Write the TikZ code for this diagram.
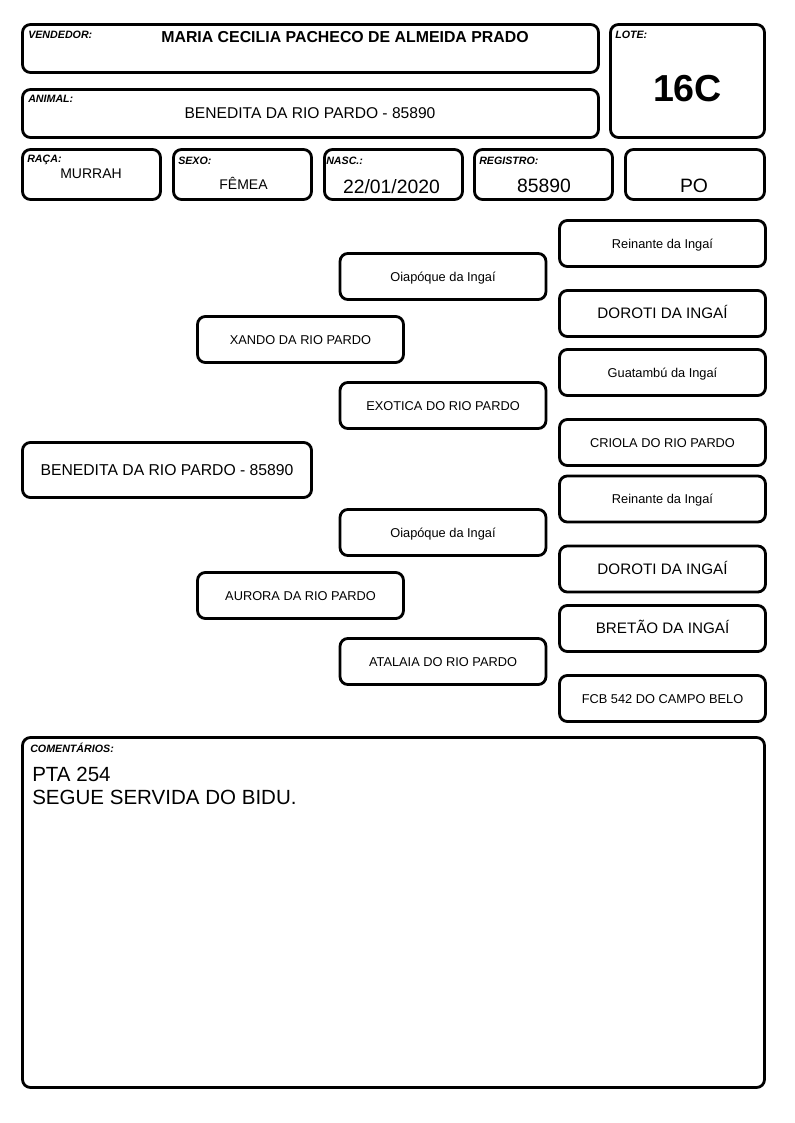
\documentclass[tikz,border=0pt]{standalone}
\usepackage{fontspec}
\setmainfont{Liberation Sans}
\tikzset{
  box/.style={line width=2.1pt,rounded corners=6pt},
  tag/.style={anchor=base west,inner sep=0pt,font=\fontsize{8}{9.6}\selectfont\bfseries\itshape},
  val/.style={anchor=base,inner sep=0pt},
  obs/.style={anchor=base west,inner sep=0pt,font=\fontsize{15.4}{17.25}\selectfont},
  pbox/.style={draw,line width=2.1pt,rounded corners=6pt,inner sep=1pt,
    minimum width=154.5pt,minimum height=34.6pt,text height=6.9pt,text depth=0pt,
    font=\fontsize{9.6}{11}\selectfont},
  pbig/.style={pbox,font=\fontsize{11.4}{13}\selectfont,text height=8.2pt}
}
\begin{document}
\begin{tikzpicture}[x=0.75pt,y=-0.75pt]
\useasboundingbox (0,0) rectangle (794,1123);
% header
\draw[box] (22.5,24.5) rectangle (598.5,72.5);
\draw[box] (22.5,89.5) rectangle (598.5,137.5);
\draw[box] (610.5,24.5) rectangle (764.5,137.5);
\draw[box] (22.5,149.5) rectangle (160.5,199.5);
\draw[box] (173.5,149.5) rectangle (311.5,199.5);
\draw[box] (324.5,149.5) rectangle (462.5,199.5);
\draw[box] (474.5,149.5) rectangle (612.5,199.5);
\draw[box] (625.5,149.5) rectangle (764.5,199.5);
\node[tag] (vendedor) at (28,39) {VENDEDOR:};
\node[tag] (animal) at (28,103) {ANIMAL:};
\node[tag] (lote) at (615,39) {LOTE:};
\node[tag] (raca) at (27,162.5) {RAÇA:};
\node[tag] (sexo) at (178,165) {SEXO:};
\node[tag] (nasc) at (326,165) {NASC.:};
\node[tag] (registro) at (479,165) {REGISTRO:};
\node[val,font=\fontsize{11.9}{14}\selectfont\bfseries] (vendedorval) at (345,43) {MARIA CECILIA PACHECO DE ALMEIDA PRADO};
\node[val,font=\fontsize{11.7}{14}\selectfont] (animalval) at (310,119) {BENEDITA DA RIO PARDO - 85890};
\node[val,font=\fontsize{28.2}{32}\selectfont\bfseries] (loteval) at (687.5,102) {16C};
\node[val,font=\fontsize{10.5}{12}\selectfont] (racaval) at (91,178.3) {MURRAH};
\node[val,font=\fontsize{10.5}{12}\selectfont] (sexoval) at (243.5,189.3) {FÊMEA};
\node[val,font=\fontsize{14.5}{17}\selectfont] (nascval) at (391.5,193.3) {22/01/2020};
\node[val,font=\fontsize{14.5}{17}\selectfont] (registroval) at (544,193) {85890};
\node[val,font=\fontsize{14.5}{17}\selectfont] (categoria) at (694,193) {PO};
% pedigree
\node[pbox,minimum width=216.8pt,minimum height=41.3pt,font=\fontsize{11.8}{14}\selectfont,text height=8.45pt] (bezerra) at (167,470) {BENEDITA DA RIO PARDO - 85890};
\node[pbox] (pai) at (300.5,339.5) {XANDO DA RIO PARDO};
\node[pbox] (mae) at (300.5,595.5) {AURORA DA RIO PARDO};
\node[pbox] (avopp) at (443,276.5) {Oiapóque da Ingaí};
\node[pbox] (avopm) at (443,405.5) {EXOTICA DO RIO PARDO};
\node[pbox] (avomp) at (443,532.5) {Oiapóque da Ingaí};
\node[pbox] (avomm) at (443,661.5) {ATALAIA DO RIO PARDO};
\node[pbox] (bisppp) at (662.5,243.5) {Reinante da Ingaí};
\node[pbig] (bisppm) at (662.5,313.5) {DOROTI DA INGAÍ};
\node[pbox] (bispmp) at (662.5,372.5) {Guatambú da Ingaí};
\node[pbox] (bispmm) at (662.5,442.5) {CRIOLA DO RIO PARDO};
\node[pbox] (bismpp) at (662.5,499) {Reinante da Ingaí};
\node[pbig] (bismpm) at (662.5,569) {DOROTI DA INGAÍ};
\node[pbig] (bismmp) at (662.5,628.5) {BRETÃO DA INGAÍ};
\node[pbox] (bismmm) at (662.5,698.5) {FCB 542 DO CAMPO BELO};
% comentarios
\draw[box] (22.5,737.5) rectangle (764.5,1087.5);
\node[tag] (comentarios) at (30,752.7) {COMENTÁRIOS:};
\node[obs] (obs1) at (32,781) {PTA 254};
\node[obs] (obs2) at (32,804) {SEGUE SERVIDA DO BIDU.};
\end{tikzpicture}
\end{document}
